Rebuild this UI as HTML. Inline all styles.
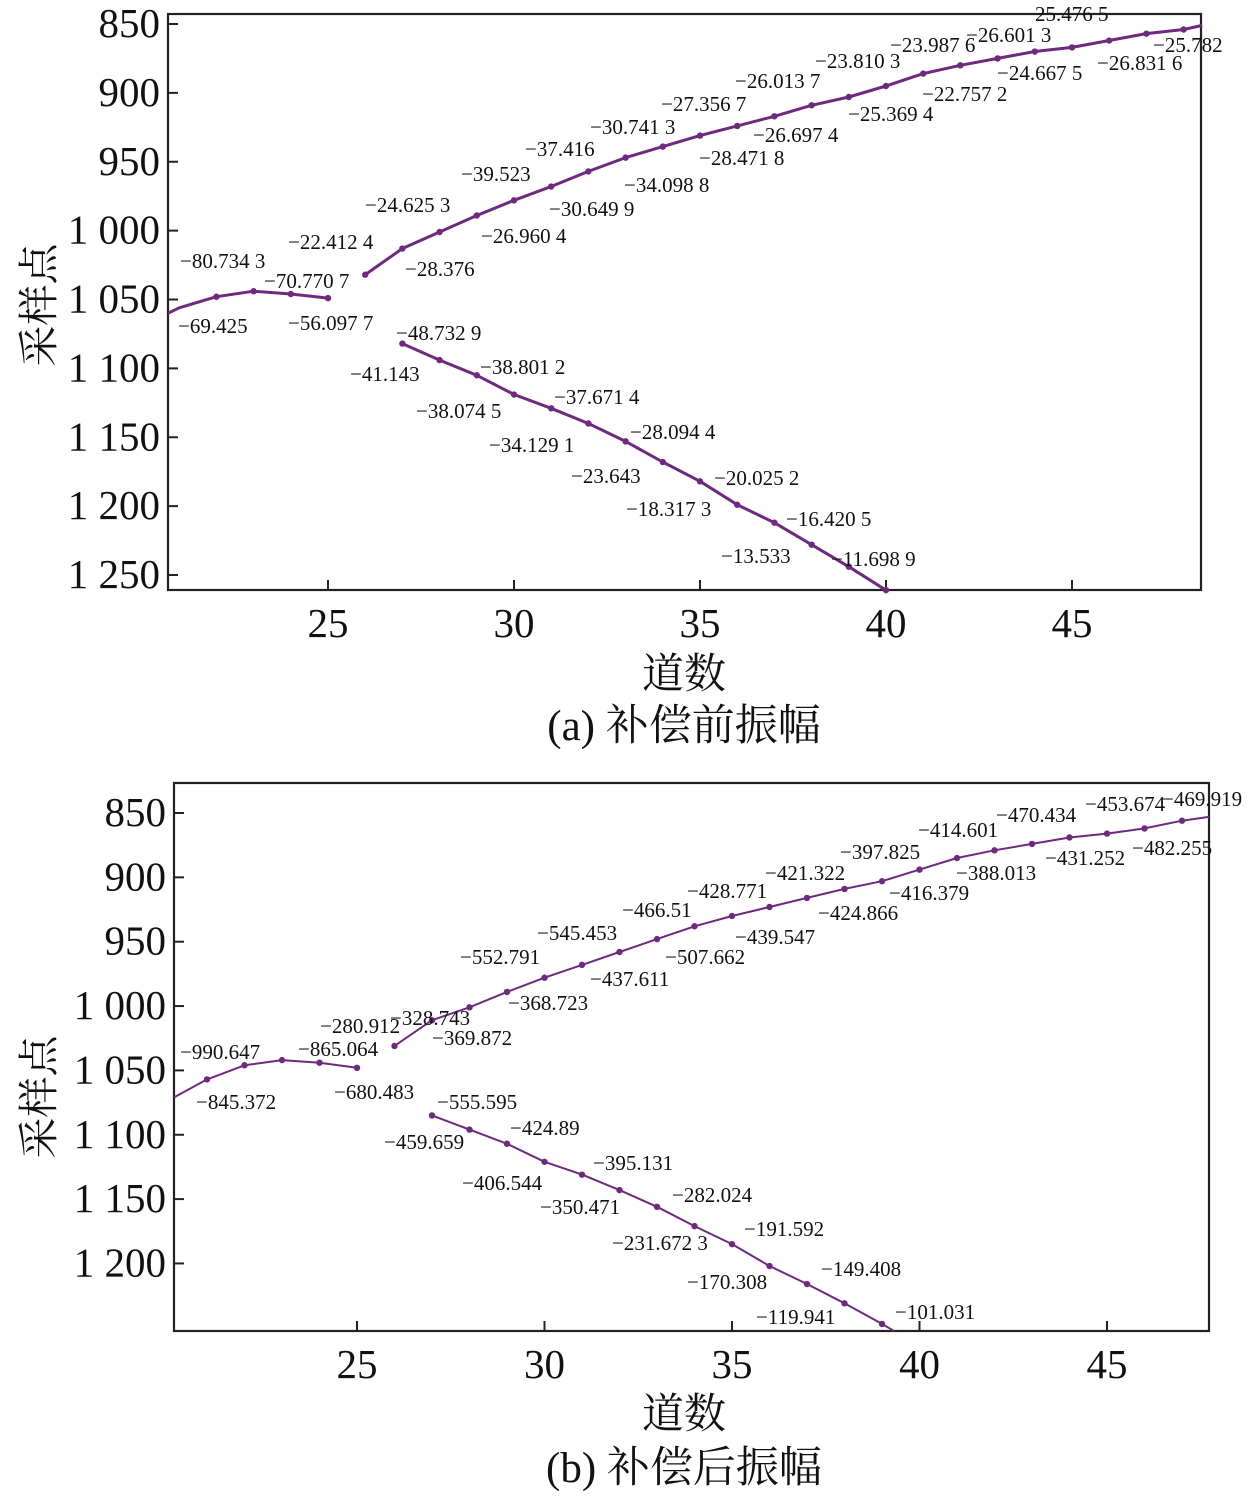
<!DOCTYPE html>
<html><head><meta charset="utf-8">
<style>
html,body{margin:0;padding:0;background:#fff;}
svg{display:block;font-family:"Liberation Serif","Noto Serif CJK SC",serif;}
</style></head>
<body>
<svg id="fig" width="1259" height="1497" viewBox="0 0 1259 1497" xmlns="http://www.w3.org/2000/svg"></svg>
<script>
// ===== Chart (a) data =====
const aXTicks = [25, 30, 35, 40, 45];
const aYTicks = [850, 900, 950, 1000, 1050, 1100, 1150, 1200, 1250];
const aYTickLabels = ["850","900","950","1 000","1 050","1 100","1 150","1 200","1 250"];
const aSeg1X = [20.7, 21, 22, 23, 24, 25];
const aSeg1Y = [1060, 1056, 1048, 1044, 1046, 1049];
const aSeg1Dots = [false, false, true, true, true, true];
const aSeg2X = [26,27,28,29,30,31,32,33,34,35,36,37,38,39,40,41,42,43,44,45,46,47,48,48.5];
const aSeg2Y = [1032,1013,1001,989,978,968,957,947,939,931,924,917,909,903,895,886,880,875,870,867,862,857,854,851];
const aSeg3X = [27,28,29,30,31,32,33,34,35,36,37,38,39,40];
const aSeg3Y = [1082,1094,1105,1119,1129,1140,1153,1168,1182,1199,1212,1228,1244,1261];
const aLabels = [
["−69.425",178,326],["−80.734 3",180,261],["−70.770 7",264,281],["−56.097 7",288,323],
["−22.412 4",288,242],["−28.376",405,269],["−24.625 3",365,205],["−26.960 4",481,236],
["−39.523",461,174],["−30.649 9",549,209],["−37.416",525,149],["−34.098 8",624,185],
["−30.741 3",590,127],["−28.471 8",699,158],["−27.356 7",661,104],["−26.697 4",753,135],
["−26.013 7",735,81],["−25.369 4",848,114],["−23.810 3",815,61],["−22.757 2",922,94],
["−23.987 6",890,45],["−24.667 5",997,73],["−26.601 3",966,35],["25.476 5",1035,14],
["−26.831 6",1097,63],["−25.782",1153,45],
["−48.732 9",396,333],["−41.143",350,374],["−38.801 2",480,367],["−38.074 5",416,411],
["−37.671 4",554,397],["−34.129 1",489,445],["−28.094 4",630,432],["−23.643",571,476],
["−20.025 2",714,478],["−18.317 3",626,509],["−16.420 5",786,519],["−13.533",721,556],
["−11.698 9",831,559]
];
// ===== Chart (b) data =====
const bXTicks = [25, 30, 35, 40, 45];
const bYTicks = [850, 900, 950, 1000, 1050, 1100, 1150, 1200];
const bYTickLabels = ["850","900","950","1 000","1 050","1 100","1 150","1 200"];
const bSeg1X = [20.12, 21, 22, 23, 24, 25];
const bSeg1Y = [1071, 1057, 1046, 1042, 1044, 1048];
const bSeg1Dots = [false, true, true, true, true, true];
const bSeg2X = [26,27,28,29,30,31,32,33,34,35,36,37,38,39,40,41,42,43,44,45,46,47,47.72];
const bSeg2Y = [1031,1011,1001,989,978,968,958,948,938,930,923,916,909,903,894,885,879,874,869,866,862,856,853];
const bSeg3X = [27,28,29,30,31,32,33,34,35,36,37,38,39,39.32];
const bSeg3Y = [1085,1096,1107,1121,1131,1143,1156,1171,1185,1202,1216,1231,1247,1252.5];
const bLabels = [
["−990.647",180,1052],["−845.372",196,1102],["−865.064",298,1049],["−680.483",334,1092],
["−280.912",320,1026],["−328.743",390,1018],["−369.872",432,1038],["−552.791",460,957],
["−368.723",508,1003],["−545.453",537,933],["−437.611",590,979],["−466.51",622,910],
["−507.662",665,957],["−428.771",687,891],["−439.547",735,937],["−421.322",765,873],
["−424.866",818,913],["−397.825",840,852],["−416.379",889,893],["−414.601",918,830],
["−388.013",956,873],["−470.434",996,815],["−431.252",1045,858],["−453.674",1085,804],
["−482.255",1132,848],["−469.919",1162,799],
["−555.595",437,1102],["−459.659",384,1142],["−424.89",510,1128],["−406.544",462,1183],
["−395.131",593,1163],["−350.471",540,1207],["−282.024",672,1195],["−231.672 3",612,1243],
["−191.592",744,1229],["−170.308",687,1282],["−149.408",821,1269],["−119.941",756,1317],
["−101.031",895,1312]
];

const NS = "http://www.w3.org/2000/svg";
const svg = document.getElementById("fig");
const COLOR = "#6e2a7e";
function mk(tag, attrs, parent){
  const e = document.createElementNS(NS, tag);
  for (const k in attrs) e.setAttribute(k, attrs[k]);
  (parent||svg).appendChild(e);
  return e;
}

function drawChart(cfg){
  const g = mk("g", {});
  
  
  const xs = v => cfg.px0 + (v - cfg.x0) * cfg.kx;
  const ys = v => cfg.py0 + (v - cfg.y0) * cfg.ky;
  const fr = mk("rect", {x:cfg.L, y:cfg.T, width:cfg.R-cfg.L, height:cfg.B-cfg.T, fill:"none", stroke:"#222", "stroke-width":2.2}, g);
  
  
  cfg.yTicks.forEach((t,i)=>{
    const y = ys(t);
    const tk = mk("line", {x1:cfg.L, x2:cfg.L+10, y1:y, y2:y, stroke:"#222", "stroke-width":2}, g);
    
    
    const tx = mk("text", {x:cfg.L-8, y:y+13, "text-anchor":"end", "font-size":41, fill:"#111"}, g);
    tx.textContent = cfg.yTickLabels[i];
    
    
  });
  cfg.xTicks.forEach(t=>{
    const x = xs(t);
    const tk = mk("line", {x1:x, x2:x, y1:cfg.B, y2:cfg.B-10, stroke:"#222", "stroke-width":2}, g);
    
    
    const tx = mk("text", {x:x, y:cfg.B+47, "text-anchor":"middle", "font-size":41, fill:"#111"}, g);
    tx.textContent = String(t);
    
    
  });
  cfg.segs.forEach((s,si)=>{
    const pts = s.x.map((v,i)=>xs(v).toFixed(1)+","+ys(s.y[i]).toFixed(1)).join(" ");
    const pl = mk("polyline", {points:pts, fill:"none", stroke:COLOR, "stroke-width":cfg.lw, "stroke-linejoin":"round"}, g);
    
    
    s.x.forEach((v,i)=>{
      if (s.dots && !s.dots[i]) return;
      if (!Number.isInteger(v)) return;
      const c = mk("circle", {cx:xs(v), cy:ys(s.y[i]), r:3.2, fill:COLOR}, g);
      
      
    });
  });
  cfg.labels.forEach(l=>{
    const t = mk("text", {x:l[1], y:l[2]+7, "font-size":21, fill:"#111"}, g);
    t.textContent = l[0];
    
    
  });
  const yt = mk("text", {x:0, y:0, transform:`translate(53 ${cfg.yTitleY}) rotate(-90)`, "text-anchor":"middle", "font-size":41, fill:"#111"}, g);
  yt.textContent = "采样点";
  
  
  const xt = mk("text", {x:684, y:cfg.xTitleY, "text-anchor":"middle", "font-size":42, fill:"#111"}, g);
  xt.textContent = "道数";
  
  
  const cp = mk("text", {x:684, y:cfg.capY, "text-anchor":"middle", "font-size":43, fill:"#111"}, g);
  cp.textContent = cfg.caption;
  
  
}

drawChart({name:"chart-a", L:168, R:1201, T:14, B:590,
  x0:25, px0:328, kx:37.2, y0:850, py0:24, ky:1.3775,
  xTicks:aXTicks, yTicks:aYTicks, yTickLabels:aYTickLabels, lw:3,
  segs:[{x:aSeg1X,y:aSeg1Y,dots:aSeg1Dots},{x:aSeg2X,y:aSeg2Y},{x:aSeg3X,y:aSeg3Y}],
  labels:aLabels, yTitleY:305, xTitleY:688, capY:740, caption:"(a) 补偿前振幅"});
drawChart({name:"chart-b", L:174, R:1209, T:783, B:1331,
  x0:25, px0:357, kx:37.5, y0:850, py0:813, ky:1.287,
  xTicks:bXTicks, yTicks:bYTicks, yTickLabels:bYTickLabels, lw:2,
  segs:[{x:bSeg1X,y:bSeg1Y,dots:bSeg1Dots},{x:bSeg2X,y:bSeg2Y},{x:bSeg3X,y:bSeg3Y}],
  labels:bLabels, yTitleY:1097, xTitleY:1428, capY:1482, caption:"(b) 补偿后振幅"});
</script>
</body></html>
